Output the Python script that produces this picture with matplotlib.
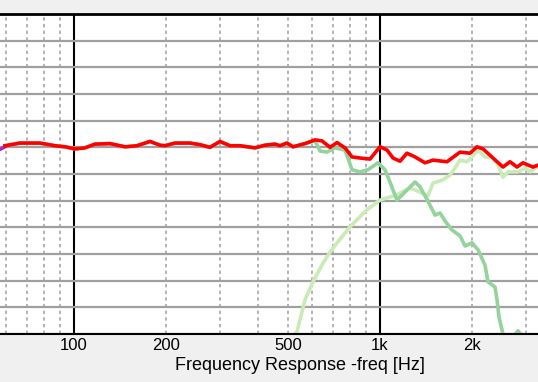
import matplotlib
matplotlib.use("Agg")
import matplotlib.pyplot as plt
import numpy as np

# summed response (red)
sum_freq = [59.5, 66.6, 77.4, 86.7, 93.5, 100.8, 108.6, 117.1, 131.1, 146.8,
            160.7, 177.2, 191.0, 198.3, 213.8, 239.4, 258.1, 278.3, 300, 323.4,
            348.7, 390.4, 420.9, 453.8, 471.2, 496.7, 519.6, 568.7, 613.3, 646.5,
            686.6, 723.7, 768.5, 810.1, 860.3, 927.5, 1000, 1054, 1103, 1163,
            1225, 1302, 1403, 1490, 1656, 1826, 1969, 2075, 2171, 2341,
            2523, 2660, 2804, 2933, 3162, 3300]
sum_db = [65.3, 65.8, 65.8, 65.3, 65.1, 64.7, 64.9, 65.6, 65.7, 65.1,
          65.3, 66.1, 65.4, 65.3, 65.8, 65.8, 65.5, 65.0, 66.1, 65.3,
          65.3, 64.9, 65.4, 65.6, 65.3, 65.8, 65.1, 65.7, 66.4, 66.2,
          65.0, 65.9, 64.9, 63.2, 63.0, 62.8, 65.1, 64.5, 63.0, 62.4,
          63.9, 63.2, 62.1, 62.6, 62.3, 64.1, 63.9, 65.1, 64.7, 63.0,
          61.3, 62.3, 61.3, 62.1, 61.3, 61.7]

# woofer (mid green)
woofer_freq = [59.5, 66.6, 77.4, 86.7, 93.5, 100.8, 108.6, 117.1, 131.1, 146.8,
               160.7, 177.2, 191.0, 198.3, 213.8, 239.4, 258.1, 278.3, 300, 323.4,
               348.7, 390.4, 420.9, 453.8, 471.2, 496.7, 519.6, 568.7, 613.3,
               636.7, 671.0, 712.8, 768.5, 810.1,
               860.3, 913.7, 985.1, 1038, 1078, 1136, 1207, 1302, 1351, 1435,
               1513, 1571, 1631, 1719, 1826, 1896, 1998, 2091, 2204, 2254,
               2376, 2413, 2448, 2523, 2620, 2741, 2825, 2912, 3046]
woofer_db = [65.3, 65.8, 65.8, 65.3, 65.1, 64.7, 64.9, 65.6, 65.7, 65.1,
             65.3, 66.1, 65.4, 65.3, 65.8, 65.8, 65.5, 65.0, 66.1, 65.3,
             65.3, 64.9, 65.4, 65.6, 65.3, 65.8, 65.1, 65.7, 66.2,
             64.3, 64.1, 64.9, 64.5, 60.8,
             60.4, 60.8, 62.1, 60.8, 58.5, 55.1, 56.6, 58.5, 57.6, 54.9,
             52.3, 52.7, 51.2, 49.5, 48.4, 46.5, 47.1, 45.8, 42.9, 39.8,
             38.8, 36.4, 33.2, 30.0, 27.0, 29.6, 30.6, 29.6, 25.1]

# tweeter (pale green)
tweeter_freq = [520, 527.5, 535.5, 568.7, 603.9, 651.3, 697.0, 798.0, 906.9, 1000,
                1136, 1253, 1351, 1435, 1490, 1606, 1693, 1758, 1826, 1925,
                1998, 2091, 2204, 2341, 2430, 2523, 2620, 2721, 2825, 2978,
                3092, 3259, 3500]
tweeter_db = [28.0, 30.0, 30.4, 36.4, 39.8, 43.3, 45.9, 50.1, 53.3, 55.1,
              56.1, 57.4, 56.6, 55.9, 58.3, 58.9, 59.8, 61.1, 62.6, 62.3,
              63.2, 64.5, 63.2, 63.0, 61.7, 59.4, 60.4, 60.4, 60.4, 61.1,
              60.4, 61.3, 61.7]

# short purple trace at the left edge
extra_freq = [55.0, 57.3, 59.5]
extra_db = [64.4, 64.6, 65.1]

x_ticks = [100, 200, 500, 1000, 2000]
x_tick_labels = ["100", "200", "500", "1k", "2k"]
decades = [100, 1000]
minor_lines = [60, 70, 80, 90, 200, 300, 400, 500, 600, 700, 800, 900, 2000, 3000]


def main():
    plt.rcParams["font.family"] = ["Liberation Sans", "DejaVu Sans"]
    fig = plt.figure(figsize=(5.38, 3.82), dpi=100, facecolor="#f0f0f0")
    ax = fig.add_axes([0.0, 48 / 382, 1.0, 320 / 382])
    ax.set_facecolor("white")

    ax.set_xscale("log")
    ax.set_xlim(57.3, 3284)
    ax.set_ylim(30, 90)

    ax.set_yticks(np.arange(30, 91, 5))
    ax.yaxis.grid(True, color="#a0a0a0", linewidth=1.6)
    ax.tick_params(axis="y", left=False, labelleft=False)

    for f in minor_lines:
        ax.axvline(f, color="#a8a8a8", linewidth=1.2, linestyle=(0, (2, 2)), zorder=1)
    for f in decades:
        ax.axvline(f, color="black", linewidth=1.5, zorder=1.5)

    ax.plot(tweeter_freq, tweeter_db, color="#c9ebb6", linewidth=2.6, zorder=2)
    ax.plot(woofer_freq, woofer_db, color="#93d39c", linewidth=2.6, zorder=2.2)
    ax.plot(extra_freq, extra_db, color="#b020d0", linewidth=2.4, zorder=2.3)
    ax.plot(sum_freq, sum_db, color="#ff0000", linewidth=2.6, zorder=3)

    ax.set_xticks(x_ticks)
    ax.set_xticklabels(x_tick_labels, fontsize=12)
    ax.xaxis.set_minor_locator(matplotlib.ticker.NullLocator())
    ax.tick_params(axis="x", length=0, pad=3)

    for side in ["left", "right"]:
        ax.spines[side].set_visible(False)
    ax.spines["top"].set_linewidth(2)
    ax.spines["bottom"].set_linewidth(1.5)

    fig.text(300 / 538, 1 - 366 / 382, "Frequency Response -freq [Hz]",
             fontsize=13, ha="center", va="center")

    fig.savefig("out.png", dpi=100, facecolor=fig.get_facecolor())


if __name__ == "__main__":
    main()
